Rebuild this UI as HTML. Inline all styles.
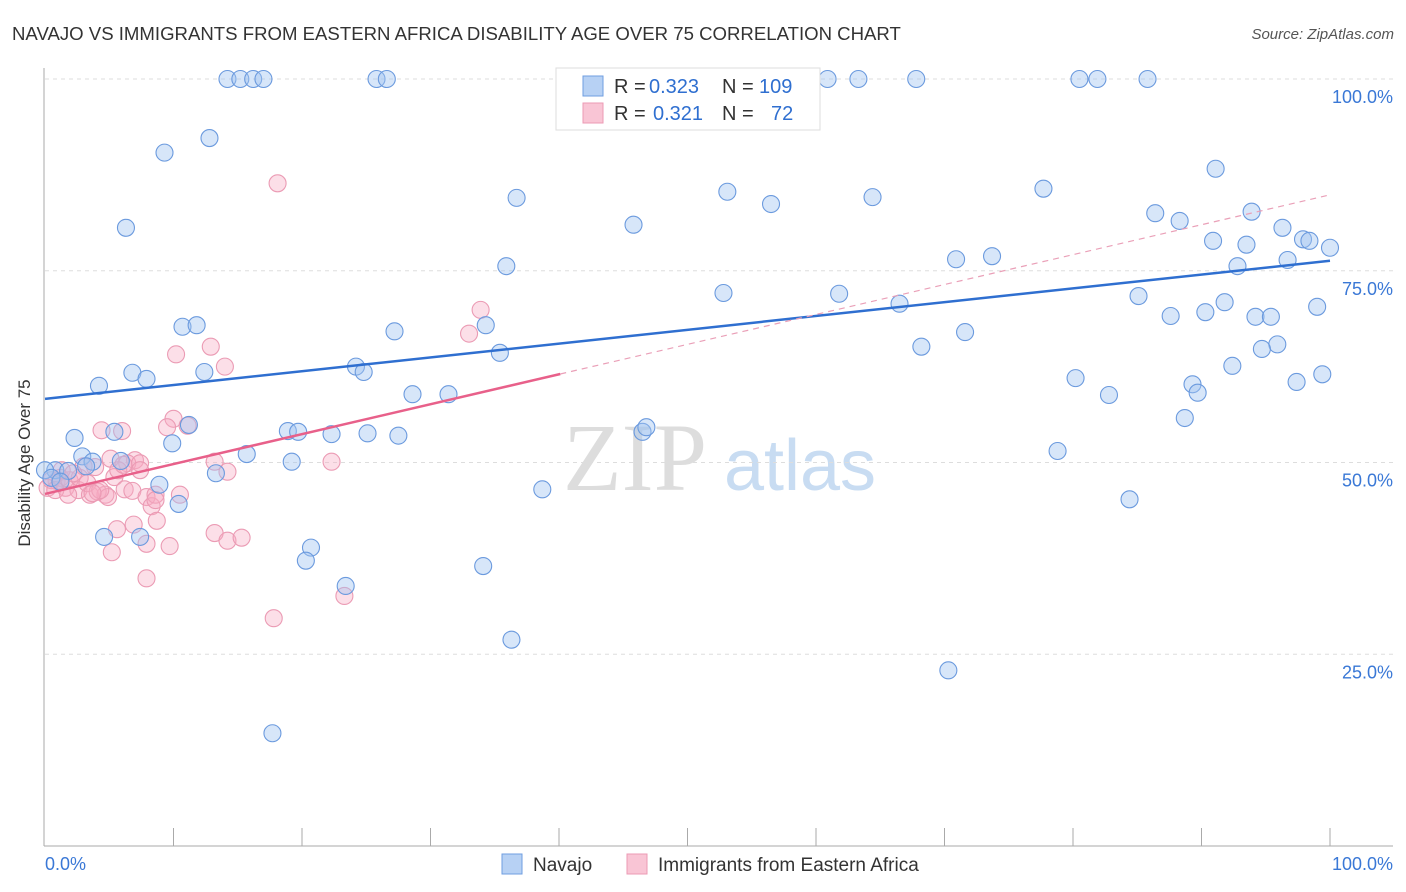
<!DOCTYPE html>
<html><head><meta charset="utf-8"><style>
body{margin:0;background:#fff;font-family:"Liberation Sans",sans-serif;}
svg{display:block}
</style></head><body>
<svg width="1406" height="892" viewBox="0 0 1406 892" xmlns="http://www.w3.org/2000/svg">
<text x="12" y="40" font-size="18.6" fill="#333">NAVAJO VS IMMIGRANTS FROM EASTERN AFRICA DISABILITY AGE OVER 75 CORRELATION CHART</text>
<text x="1394" y="39" font-size="15" fill="#555" font-style="italic" text-anchor="end">Source: ZipAtlas.com</text>
<g>
<text x="635" y="490" font-size="96" fill="#ddd" font-family="Liberation Serif,serif" text-anchor="middle">ZIP</text>
<text x="800" y="490" font-size="72" fill="#c8dcf2" text-anchor="middle">atlas</text>
</g>
<g id="grid"></g>
<g id="axes"></g>
<g id="pts"></g>
<g id="lines"></g>
<text x="22" y="455" font-size="17" fill="#333" text-anchor="middle" transform="rotate(-90 30 455)">Disability Age Over 75</text>
<g>
<rect x="556" y="68" width="264" height="62" fill="#fff" stroke="#ddd"/>
<rect x="583" y="76" width="20" height="20" fill="#b7d1f4" stroke="#6f9ee0"/>
<rect x="583" y="103" width="20" height="20" fill="#f9c5d5" stroke="#ec9ab4"/>
<text x="614" y="93" font-size="20" fill="#333">R =</text>
<text x="649" y="93" font-size="20" fill="#2f6fd0">0.323</text>
<text x="722" y="93" font-size="20" fill="#333">N =</text>
<text x="759" y="93" font-size="20" fill="#2f6fd0">109</text>
<text x="614" y="120" font-size="20" fill="#333">R =</text>
<text x="653" y="120" font-size="20" fill="#2f6fd0">0.321</text>
<text x="722" y="120" font-size="20" fill="#333">N =</text>
<text x="771" y="120" font-size="20" fill="#2f6fd0">72</text>
</g>
<g>
<rect x="502" y="854" width="20" height="20" fill="#b7d1f4" stroke="#6f9ee0"/>
<text x="533" y="871" font-size="19" fill="#333">Navajo</text>
<rect x="627" y="854" width="20" height="20" fill="#f9c5d5" stroke="#ec9ab4"/>
<text x="658" y="871" font-size="19" fill="#333">Immigrants from Eastern Africa</text>
</g>
</svg>
<script>
const yTicks=[25,50,75,100];
const yTickLabels=["25.0%","50.0%","75.0%","100.0%"];
const xTickLabels=["0.0%","100.0%"];
const navajoX=[14.2,15.2,16.2,17.0,25.8,26.6,40.7,60.9,63.3,67.8,80.5,81.9,85.8,9.3,12.8,6.3,36.7,45.8,53.1,56.5,64.4,77.7,91.1,86.4,88.3,93.9,90.9,93.5,96.3,97.9,98.4,100,35.9,70.9,73.7,92.8,96.7,52.8,61.8,66.5,85.1,91.8,87.6,90.3,94.2,95.4,99.0,10.7,11.8,27.2,34.3,71.6,68.2,35.4,95.9,94.7,92.4,24.2,24.8,12.4,6.8,7.9,4.2,80.2,89.3,89.7,82.8,97.4,99.4,28.6,31.4,88.7,46.5,46.8,2.3,5.4,9.9,11.2,18.9,19.7,22.3,25.1,27.5,15.7,78.8,2.9,3.7,5.9,19.2,0.8,1.8,3.2,13.3,8.9,10.4,38.7,84.4,4.6,7.4,20.7,20.3,34.1,23.4,36.3,70.3,17.7,0.0,0.5,1.2];
const navajoY=[100,100,100,100,100,100,100,100,100,100,100,100,100,90.4,92.3,80.6,84.5,81.0,85.3,83.7,84.6,85.7,88.3,82.5,81.5,82.7,78.9,78.4,80.6,79.1,78.9,78.0,75.6,76.5,76.9,75.6,76.4,72.1,72.0,70.7,71.7,70.9,69.1,69.6,69.0,69.0,70.3,67.7,67.9,67.1,67.9,67.0,65.1,64.3,65.4,64.8,62.6,62.5,61.8,61.8,61.7,60.9,60.0,61.0,60.2,59.1,58.8,60.5,61.5,58.9,58.9,55.8,54.0,54.6,53.2,54.0,52.5,54.9,54.1,54.0,53.7,53.8,53.5,51.1,51.5,50.8,50.1,50.2,50.1,49.0,48.9,49.5,48.6,47.1,44.6,46.5,45.2,40.3,40.3,38.9,37.2,36.5,33.9,26.9,22.9,14.7,49.0,48.0,47.5];
const immX=[18.1,33.9,33.0,12.9,10.2,14.0,10.0,4.4,6.0,9.5,11.1,7.0,13.2,22.3,14.2,5.1,6.4,7.4,3.9,0.9,1.6,2.6,3.5,4.7,5.4,6.2,6.8,7.9,8.3,8.6,10.5,8.7,0.2,0.5,1.2,1.9,2.7,3.3,4.1,4.9,5.7,3.0,1.3,2.2,6.9,5.6,5.2,7.9,9.7,13.2,14.2,15.3,7.9,17.8,23.3,0.8,4.3,1.8,3.7,7.4,8.6,6.1];
const immY=[86.4,69.9,66.8,65.1,64.1,62.5,55.7,54.2,54.1,54.6,54.8,50.3,50.1,50.1,48.8,50.5,49.9,49.9,49.4,47.6,46.7,46.4,45.8,45.8,48.1,46.5,46.3,45.5,44.3,45.8,45.8,42.4,46.7,47.7,48.0,47.7,48.0,47.3,46.2,45.5,49.0,49.5,49.0,48.6,41.9,41.3,38.3,39.4,39.1,40.8,39.8,40.2,34.9,29.7,32.6,46.4,46.4,45.8,46.0,49.0,45.1,49.7];
const navajoTrend=[58.3,76.3];
const immTrend=[45.9,84.9];
const immSolidEnd=40.1;
const NS="http://www.w3.org/2000/svg";
const X0=45,X1=1330,Y0=846,Y100=79;
function sx(v){return X0+(X1-X0)*v/100;}
function sy(v){return Y0-(Y0-Y100)*v/100;}
function mk(tag,attrs,parent){const e=document.createElementNS(NS,tag);for(const k in attrs)e.setAttribute(k,attrs[k]);parent.appendChild(e);return e;}
const grid=document.getElementById('grid'),axes=document.getElementById('axes'),pts=document.getElementById('pts'),lines=document.getElementById('lines');
yTicks.forEach((t,i)=>{
  const l=mk('line',{x1:45,x2:1393,y1:sy(t),y2:sy(t),stroke:'#ddd','stroke-dasharray':'4,4'},grid);
  
  
  const tx=mk('text',{x:1393,y:sy(t)+24,'font-size':18,fill:'#3a78d6','text-anchor':'end'},axes);
  tx.textContent=yTickLabels[i];
  
  
});
const ya=mk('line',{x1:44,x2:44,y1:68,y2:846,stroke:'#aaa'},axes);


const xa=mk('line',{x1:44,x2:1393,y1:846,y2:846,stroke:'#aaa'},axes);


for(let i=1;i<=10;i++){
  const t=mk('line',{x1:sx(i*10),x2:sx(i*10),y1:828,y2:846,stroke:'#aaa'},axes);
  
  
}
[[0,'start',45],[100,'end',1393]].forEach((d,i)=>{
  const tx=mk('text',{x:d[2],y:870,'font-size':18,fill:'#3a78d6','text-anchor':d[1]},axes);
  tx.textContent=xTickLabels[i];
  
  
});
immX.forEach((x,i)=>{
  const c=mk('circle',{cx:sx(x),cy:sy(immY[i]),r:8.5,fill:'rgba(246,170,195,0.38)',stroke:'#eb9bb4','stroke-width':1.1},pts);
  
  
});
navajoX.forEach((x,i)=>{
  const c=mk('circle',{cx:sx(x),cy:sy(navajoY[i]),r:8.5,fill:'rgba(160,195,240,0.42)',stroke:'#6b9ade','stroke-width':1.1},pts);
  
  
});
const bl=mk('line',{x1:sx(0),y1:sy(navajoTrend[0]),x2:sx(100),y2:sy(navajoTrend[1]),stroke:'#2f6fd0','stroke-width':2.5},lines);


const ym=immTrend[0]+(immTrend[1]-immTrend[0])*immSolidEnd/100;
const pl=mk('line',{x1:sx(0),y1:sy(immTrend[0]),x2:sx(immSolidEnd),y2:sy(ym),stroke:'#e8608a','stroke-width':2.5},lines);


const pd=mk('line',{x1:sx(immSolidEnd),y1:sy(ym),x2:sx(100),y2:sy(immTrend[1]),stroke:'#eaa0b8','stroke-width':1.2,'stroke-dasharray':'6,5'},lines);


</script>
</body></html>
